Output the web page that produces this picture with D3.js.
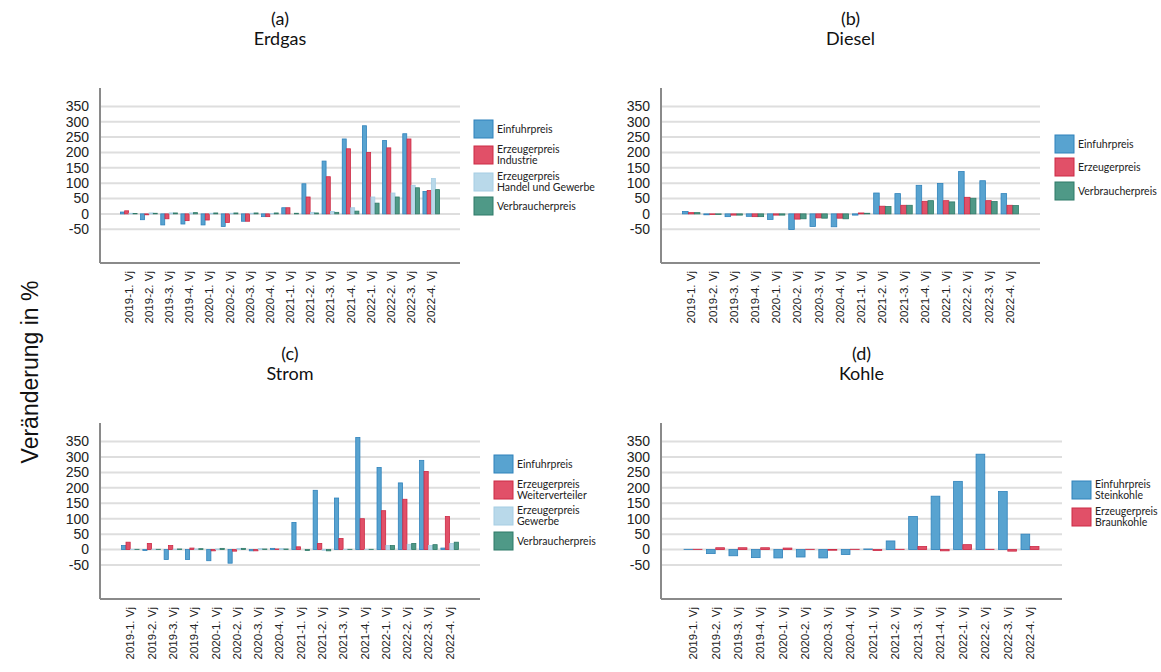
<!DOCTYPE html>
<html>
<head>
<meta charset="utf-8">
<script src="https://cdn.jsdelivr.net/npm/d3@7"></script>
<style>
  html, body { margin: 0; padding: 0; background: #fff; }
  svg { display: block; }
</style>
</head>
<body>
<div id="chart"></div>
<script>
// --- data ---
var quarters = ['2019-1. Vj', '2019-2. Vj', '2019-3. Vj', '2019-4. Vj',
                '2020-1. Vj', '2020-2. Vj', '2020-3. Vj', '2020-4. Vj',
                '2021-1. Vj', '2021-2. Vj', '2021-3. Vj', '2021-4. Vj',
                '2022-1. Vj', '2022-2. Vj', '2022-3. Vj', '2022-4. Vj'];
var yTicks = [-50, 0, 50, 100, 150, 200, 250, 300, 350];

// (a) Erdgas
var gasEinfuhr     = [6, -19, -36, -33, -36, -41, -24, -9, 20, 98, 172, 244, 287, 239, 261, 73];
var gasIndustrie   = [10, -3, -16, -22, -20, -28, -24, -9, 20, 55, 121, 212, 200, 215, 244, 76];
var gasGewerbe     = [2, 3, 3, 3, 2, 2, 2, 1, 0, 5, 8, 20, 55, 68, 93, 115];
var gasVerbraucher = [1, 2, 3, 4, 3, 3, 3, 3, 2, 3, 5, 9, 35, 55, 85, 79];

// (b) Diesel
var dieselEinfuhr     = [8, -3, -9, -8, -18, -51, -41, -42, -4, 68, 66, 93, 99, 138, 108, 66];
var dieselErzeuger    = [4, -2, -4, -9, -4, -17, -13, -14, 3, 25, 28, 41, 43, 54, 43, 28];
var dieselVerbraucher = [4, -2, -4, -9, -4, -16, -14, -16, 2, 24, 28, 43, 39, 51, 40, 27];

// (c) Strom
var stromEinfuhr     = [13, -3, -32, -32, -36, -44, -4, 4, 88, 192, 167, 363, 266, 216, 289, 5];
var stromWeiter      = [24, 20, 13, 5, -4, -5, -4, 2, 9, 20, 36, 100, 126, 163, 253, 107];
var stromGewerbe     = [1, 1, 1, 2, 2, 4, 3, 3, 0, -2, 1, 1, 13, 17, 13, 20];
var stromVerbraucher = [1, 1, 2, 3, 4, 4, 2, 2, -3, -4, 1, 1, 13, 20, 16, 24];

// (d) Kohle
var kohleSteinEinfuhr = [1, -13, -20, -26, -27, -24, -27, -16, 2, 28, 107, 173, 221, 309, 188, 50];
var kohleBraunErz     = [1, 6, 6, 6, 5, 1, -2, 1, -3, 1, 10, -4, 16, 1, -5, 10];

var colors = {
  blue:  { fill: '#58a3d0', stroke: '#2f82bb' },
  red:   { fill: '#e15068', stroke: '#cc2a45' },
  light: { fill: '#b9d9ea', stroke: '#a6cde3' },
  green: { fill: '#4f9987', stroke: '#2f7a68' }
};

var panels = [
  { letter: '(a)', title: 'Erdgas', x0: 100, x1: 460, yTop: 88, yBottom: 263,
    legendX: 474, legendY: [120, 146, 173, 197],
    series: [
      { name: ['Einfuhrpreis'], values: gasEinfuhr, color: colors.blue },
      { name: ['Erzeugerpreis', 'Industrie'], values: gasIndustrie, color: colors.red },
      { name: ['Erzeugerpreis', 'Handel und Gewerbe'], values: gasGewerbe, color: colors.light },
      { name: ['Verbraucherpreis'], values: gasVerbraucher, color: colors.green }
    ] },
  { letter: '(b)', title: 'Diesel', x0: 661, x1: 1040, yTop: 88, yBottom: 263,
    legendX: 1055, legendY: [135, 158, 182],
    series: [
      { name: ['Einfuhrpreis'], values: dieselEinfuhr, color: colors.blue },
      { name: ['Erzeugerpreis'], values: dieselErzeuger, color: colors.red },
      { name: ['Verbraucherpreis'], values: dieselVerbraucher, color: colors.green }
    ] },
  { letter: '(c)', title: 'Strom', x0: 100, x1: 480, yTop: 423, yBottom: 599,
    legendX: 494, legendY: [455, 481, 507, 532],
    series: [
      { name: ['Einfuhrpreis'], values: stromEinfuhr, color: colors.blue },
      { name: ['Erzeugerpreis', 'Weiterverteiler'], values: stromWeiter, color: colors.red },
      { name: ['Erzeugerpreis', 'Gewerbe'], values: stromGewerbe, color: colors.light },
      { name: ['Verbraucherpreis'], values: stromVerbraucher, color: colors.green }
    ] },
  { letter: '(d)', title: 'Kohle', x0: 661, x1: 1062, yTop: 423, yBottom: 599,
    legendX: 1072, legendY: [481, 508],
    series: [
      { name: ['Einfuhrpreis', 'Steinkohle'], values: kohleSteinEinfuhr, color: colors.blue },
      { name: ['Erzeugerpreis', 'Braunkohle'], values: kohleBraunErz, color: colors.red }
    ] }
];

var svg = d3.select('#chart').append('svg')
  .attr('width', 1161)
  .attr('height', 672);

svg.append('text')
  .attr('transform', 'translate(38,372) rotate(-90)')
  .attr('text-anchor', 'middle')
  .attr('font-family', 'Liberation Sans, Arial, sans-serif')
  .attr('font-size', 23)
  .attr('fill', '#111')
  .text('Veränderung in %');

panels.forEach(function (p) {
  var g = svg.append('g');

  var x = d3.scaleBand().domain(quarters).range([p.x0, p.x1])
    .paddingInner(0.15).paddingOuter(1.0);
  var xs = d3.scaleBand().domain(d3.range(p.series.length))
    .range([0, x.bandwidth()]).padding(0.06);
  var y = d3.scaleLinear().domain([-160, 410]).range([p.yBottom, p.yTop]);

  // titles
  var cx = (p.x0 + p.x1) / 2;
  var tTop = p.yTop - 63;
  g.append('text').attr('x', cx).attr('y', tTop)
    .attr('text-anchor', 'middle').attr('font-family', 'Lato, sans-serif')
    .attr('font-size', 18).attr('fill', '#111').text(p.letter);
  g.append('text').attr('x', cx).attr('y', tTop + 20)
    .attr('text-anchor', 'middle').attr('font-family', 'Lato, sans-serif')
    .attr('font-size', 18).attr('fill', '#111').text(p.title);

  // gridlines
  g.append('g').selectAll('line').data(yTicks).join('line')
    .attr('x1', p.x0).attr('x2', p.x1)
    .attr('y1', d => y(d)).attr('y2', d => y(d))
    .attr('stroke', '#dedede').attr('stroke-width', 2);

  // y tick labels
  g.append('g').selectAll('text').data(yTicks).join('text')
    .attr('x', p.x0 - 11).attr('y', d => y(d)).attr('dy', '0.35em')
    .attr('text-anchor', 'end')
    .attr('font-family', 'Liberation Sans, Arial, sans-serif')
    .attr('font-size', 14).attr('fill', '#222')
    .text(d => d);

  // bars
  p.series.forEach(function (s, si) {
    g.append('g').selectAll('rect').data(s.values).join('rect')
      .attr('x', (d, i) => x(quarters[i]) + xs(si))
      .attr('width', xs.bandwidth())
      .attr('y', d => y(Math.max(0, d)))
      .attr('height', d => Math.abs(y(d) - y(0)))
      .attr('fill', s.color.fill)
      .attr('stroke', s.color.stroke)
      .attr('stroke-width', 0.8);
  });

  // axis lines
  g.append('line').attr('x1', p.x0).attr('x2', p.x0)
    .attr('y1', p.yTop).attr('y2', p.yBottom)
    .attr('stroke', '#8a8a8a').attr('stroke-width', 2);
  g.append('line').attr('x1', p.x0).attr('x2', p.x1)
    .attr('y1', p.yBottom).attr('y2', p.yBottom)
    .attr('stroke', '#8a8a8a').attr('stroke-width', 2);

  // x labels
  g.append('g').selectAll('text').data(quarters).join('text')
    .attr('transform', d => 'translate(' + (x(d) + x.bandwidth() / 2) + ',' + (p.yBottom + 8) + ') rotate(-90)')
    .attr('text-anchor', 'end').attr('dy', '0.35em')
    .attr('font-family', 'Liberation Sans, Arial, sans-serif')
    .attr('font-size', 11.5).attr('fill', '#222')
    .text(d => d);

  // legend
  p.series.forEach(function (s, si) {
    var ly = p.legendY[si];
    g.append('rect').attr('x', p.legendX).attr('y', ly)
      .attr('width', 19).attr('height', 18)
      .attr('fill', s.color.fill).attr('stroke', s.color.stroke)
      .attr('stroke-width', 1);
    var mid = ly + 9;
    s.name.forEach(function (line, li) {
      var off = s.name.length === 1 ? 0 : (li === 0 ? -5.5 : 5.5);
      g.append('text').attr('x', p.legendX + 23).attr('y', mid + off)
        .attr('dy', '0.35em')
        .attr('font-family', 'Lato, sans-serif')
        .attr('font-size', 10.5).attr('fill', '#222')
        .text(line);
    });
  });
});
</script>
</body>
</html>
